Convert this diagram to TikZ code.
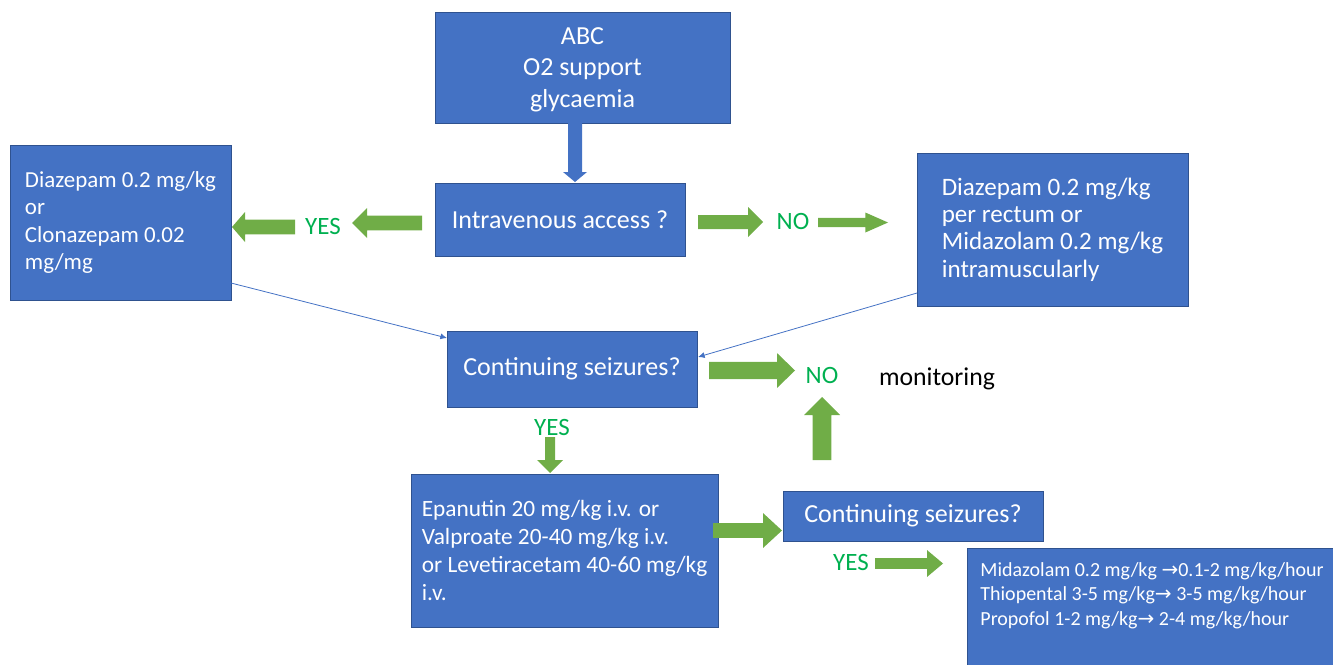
\documentclass[tikz,border=0pt]{standalone}
\usepackage{fontspec}
\setmainfont{Carlito}
\newfontfamily\symfont{DejaVu Sans}
\usetikzlibrary{calc,arrows.meta}
\definecolor{boxblue}{HTML}{4472C4}
\definecolor{boxedge}{HTML}{2F528F}
\definecolor{agreen}{HTML}{70AD47}
\definecolor{tgreen}{HTML}{00B050}
\newcommand{\rarr}{{\symfont\fontsize{15}{15}\selectfont →}}
\tikzset{
  box/.style={draw=boxedge, line width=0.6pt, fill=boxblue, text=white, inner sep=0pt,
    align=center, font=\fontsize{19.5}{23.5}\selectfont},
  lbox/.style={box, align=left, font=\fontsize{17.2}{20.7}\selectfont},
  glabel/.style={text=tgreen, inner sep=0pt, font=\fontsize{18.7}{22}\selectfont},
  plainlabel/.style={text=black, inner sep=0pt, font=\fontsize{19.3}{22}\selectfont},
  garrow/.style={fill=agreen},
  barrow/.style={fill=boxblue},
  link/.style={draw=boxblue, line width=0.6pt, -{Latex[length=5pt,width=4.5pt]}},
}
% block arrow: style, tail, tip, shaft half width, head half width, head length
\newcommand{\blockarrow}[6]{%
  \coordinate (ba-h) at ($(#3)!#6!(#2)$);
  \fill[#1] ($(#2)!#4!90:(#3)$) -- ($(ba-h)!#4!90:(#3)$) -- ($(ba-h)!#5!90:(#3)$)
    -- (#3) -- ($(ba-h)!#5!-90:(#3)$) -- ($(ba-h)!#4!-90:(#3)$) -- ($(#2)!#4!-90:(#3)$) -- cycle;
}
\begin{document}
\begin{tikzpicture}[x=0.75pt,y=-0.75pt]
\useasboundingbox (0,0) rectangle (1333,664);
\clip (0,0) rectangle (1333,664);

% boxes
\node[box, minimum width=221.25pt, minimum height=83.25pt, text depth=0pt] (abc) at (582.5,67.5)
  {\rule{0pt}{6pt}ABC\\O2 support\\glycaemia};
\node[box, minimum width=187.5pt, minimum height=54.75pt] (iv) at (560,219.5)
  {Intravenous access ?};
\node[lbox, minimum width=165.75pt, minimum height=116.25pt] (left) at (120.5,222.5)
  {Diazepam 0.2 mg/kg\\or\\Clonazepam 0.02\\mg/mg};
\node[lbox, minimum width=203.25pt, minimum height=114.75pt, font=\fontsize{18.8}{20.5}\selectfont] (right) at (1052.5,229.5)
  {Diazepam 0.2 mg/kg\\per rectum or\\Midazolam 0.2 mg/kg\\intramuscularly};
\node[box, minimum width=187.5pt, minimum height=57pt] (cs1) at (572,369)
  {Continuing seizures?};
\node[lbox, minimum width=230.25pt, minimum height=114.75pt, font=\fontsize{17.5}{20.8}\selectfont] (epa) at (564.5,550.5)
  {Epanutin 20 mg/kg i.v. or\\Valproate 20-40 mg/kg i.v.\\or Levetiracetam 40-60 mg/kg\\i.v.};
\node[box, minimum width=195pt, minimum height=37.5pt] (cs2) at (913,516)
  {Continuing seizures?};
\node[box, anchor=north west, inner xsep=9.75pt, inner ysep=0pt, font=\fontsize{15}{18.4}\selectfont] (last) at (967,548)
  {\begin{minipage}[t][93pt][t]{280pt}\raggedright\vspace{10.5pt}
   Midazolam 0.2 mg/kg \rarr0.1-2 mg/kg/hour\\
   Thiopental 3-5 mg/kg\rarr\ 3-5 mg/kg/hour\\
   Propofol 1-2 mg/kg\rarr\ 2-4 mg/kg/hour\end{minipage}};

% labels
\node[glabel] (yes1) at (323,226) {YES};
\node[glabel] (no1) at (793,221) {NO};
\node[glabel] (no2) at (822,375) {NO};
\node[glabel] (yes2) at (552,427) {YES};
\node[glabel] (yes3) at (851,562) {YES};
\node[plainlabel] (mon) at (937,379) {monitoring};

% arrow end points
\coordinate (b1t) at (575,123);   \coordinate (b1h) at (575,182);
\coordinate (g1t) at (295,227);   \coordinate (g1h) at (232,227);
\coordinate (g2t) at (422,223);   \coordinate (g2h) at (352,223);
\coordinate (g3t) at (698,222);   \coordinate (g3h) at (763,222);
\coordinate (g4t) at (818,222.5); \coordinate (g4h) at (888,222.5);
\coordinate (g5t) at (709,370.5); \coordinate (g5h) at (795,370.5);
\coordinate (g6t) at (822,460);   \coordinate (g6h) at (822,397);
\coordinate (g7t) at (550,437);   \coordinate (g7h) at (550,473);
\coordinate (g8t) at (713,530.5); \coordinate (g8h) at (782,530.5);
\coordinate (g9t) at (875,563.5); \coordinate (g9h) at (943,563.5);

\blockarrow{barrow}{b1t}{b1h}{5.25pt}{9pt}{7.5pt}
\blockarrow{garrow}{g1t}{g1h}{5.6pt}{11.25pt}{9.75pt}
\blockarrow{garrow}{g2t}{g2h}{5.6pt}{11.25pt}{11.25pt}
\blockarrow{garrow}{g3t}{g3h}{5.25pt}{11.25pt}{11.25pt}
\blockarrow{garrow}{g4t}{g4h}{3.4pt}{7.5pt}{17pt}
\blockarrow{garrow}{g5t}{g5h}{6.4pt}{13.1pt}{13.5pt}
\blockarrow{garrow}{g6t}{g6h}{7.1pt}{13.5pt}{13.5pt}
\blockarrow{garrow}{g7t}{g7h}{3.75pt}{9.75pt}{9.75pt}
\blockarrow{garrow}{g8t}{g8h}{5.6pt}{13.1pt}{14.25pt}
\blockarrow{garrow}{g9t}{g9h}{4.1pt}{10.1pt}{12pt}

% thin connectors
\coordinate (l1s) at (231,283);
\coordinate (l1e) at (447,338);
\coordinate (l2s) at (917,293);
\coordinate (l2e) at (698,357);
\draw[link] (l1s) -- (l1e);
\draw[link] (l2s) -- (l2e);
\end{tikzpicture}
\end{document}
